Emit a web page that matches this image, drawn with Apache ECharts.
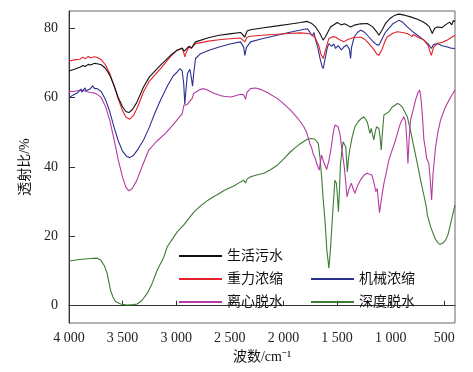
<!DOCTYPE html>
<html><head><meta charset="utf-8">
<script src="https://cdn.jsdelivr.net/npm/echarts@6/dist/echarts.min.js"></script>
<style>html,body{margin:0;padding:0;background:#fff}#c{width:473px;height:372px}</style>
</head><body><div id="c"></div>
<script>
const seriesNames = ['生活污水','重力浓缩','机械浓缩','离心脱水','深度脱水'];
const xTicks = [500,1000,1500,2000,2500,3000,3500,4000];
const yTicks = [0,20,40,60,80];

const domestic = [[4000,67.7],[3950,68.2],[3900,68.8],[3870,69.3],[3850,69.0],[3820,69.6],[3800,69.4],[3760,69.9],[3737,69.8],[3700,69.5],[3660,68.5],[3620,66.5],[3580,63.5],[3540,60.0],[3500,57.3],[3470,56.0],[3442,55.7],[3410,56.5],[3370,58.5],[3305,63.1],[3250,66.0],[3146,69.4],[3050,72.3],[2991,73.7],[2944,74.3],[2925,73.4],[2915,73.6],[2882,74.8],[2855,74.4],[2840,75.2],[2820,76.1],[2700,77.3],[2600,78.0],[2500,78.4],[2400,78.8],[2384,79.0],[2360,77.5],[2340,79.2],[2307,79.6],[2200,80.1],[2058,80.7],[1950,81.2],[1840,81.7],[1778,82.0],[1740,81.5],[1700,80.4],[1660,78.5],[1630,76.6],[1610,77.5],[1561,80.4],[1498,81.7],[1460,81.0],[1430,81.3],[1400,80.8],[1374,80.4],[1330,81.0],[1280,81.3],[1218,81.4],[1170,80.5],[1130,79.0],[1110,78.0],[1080,79.5],[1048,81.4],[1000,83.0],[960,83.8],[924,84.1],[870,83.8],[814,83.3],[750,82.6],[700,81.9],[674,81.4],[640,80.5],[612,78.5],[590,80.0],[565,80.4],[520,80.2],[490,81.0],[472,80.6],[450,81.8],[430,81.0],[415,82.3],[400,81.9]];

const gravity = [[4000,70.6],[3950,70.9],[3900,71.1],[3870,71.7],[3850,71.2],[3820,71.9],[3800,71.5],[3760,71.8],[3737,71.6],[3700,71.0],[3660,69.5],[3620,67.0],[3580,63.5],[3540,59.5],[3500,56.2],[3470,54.4],[3433,53.8],[3400,54.8],[3360,57.3],[3305,61.7],[3250,64.8],[3146,68.4],[3050,72.0],[2991,73.7],[2944,74.2],[2930,73.0],[2920,71.8],[2905,73.2],[2882,74.6],[2860,74.2],[2851,73.9],[2838,75.0],[2820,75.6],[2700,76.3],[2600,76.7],[2500,77.0],[2400,77.2],[2384,77.1],[2360,76.1],[2340,77.4],[2307,77.7],[2200,78.0],[2058,78.3],[1950,78.5],[1840,78.7],[1778,78.5],[1740,78.3],[1700,77.1],[1670,75.0],[1650,72.5],[1629,71.3],[1610,73.5],[1576,77.1],[1540,77.6],[1514,77.5],[1480,76.8],[1437,76.1],[1400,76.8],[1350,77.3],[1281,77.5],[1240,76.8],[1203,75.6],[1160,74.0],[1130,72.6],[1110,72.2],[1080,74.0],[1050,76.5],[1032,77.5],[980,78.6],[938,79.0],[890,78.8],[845,78.5],[800,77.6],[790,78.2],[750,77.5],[690,76.6],[650,75.0],[630,73.0],[621,72.2],[600,74.5],[565,75.6],[520,76.0],[472,76.6],[440,77.3],[400,78.0]];

const mechanical = [[4000,60.0],[3960,60.8],[3920,61.4],[3890,62.5],[3880,61.6],[3850,62.8],[3840,62.0],[3800,62.6],[3780,63.4],[3760,62.6],[3737,62.6],[3700,61.8],[3660,59.5],[3620,56.0],[3580,51.5],[3540,47.5],[3500,44.5],[3460,43.0],[3433,42.7],[3400,43.3],[3360,45.0],[3305,47.8],[3250,51.5],[3200,55.5],[3146,59.3],[3080,63.5],[3030,66.2],[2991,67.4],[2965,68.4],[2945,67.8],[2930,64.0],[2920,58.1],[2910,62.0],[2895,67.0],[2873,68.2],[2860,66.0],[2848,63.3],[2835,67.5],[2820,71.3],[2773,72.7],[2700,73.6],[2600,74.6],[2500,75.5],[2400,76.1],[2384,76.1],[2370,74.5],[2360,72.2],[2345,74.5],[2307,76.1],[2200,77.0],[2058,78.0],[1950,78.8],[1840,79.5],[1778,79.9],[1760,79.2],[1747,78.5],[1730,77.8],[1715,78.8],[1700,76.6],[1680,74.5],[1660,71.5],[1640,69.0],[1629,68.4],[1610,71.5],[1590,74.5],[1576,75.6],[1550,74.8],[1530,75.5],[1514,74.2],[1490,75.0],[1460,73.8],[1437,74.6],[1410,75.2],[1385,74.0],[1374,71.3],[1365,74.5],[1340,77.5],[1310,78.8],[1281,79.5],[1240,78.8],[1203,77.5],[1160,76.0],[1130,75.3],[1110,75.1],[1080,77.0],[1050,78.8],[1032,79.5],[980,81.3],[924,82.3],[890,81.8],[845,80.4],[800,79.2],[750,78.0],[690,76.6],[650,75.5],[621,74.2],[600,75.3],[565,75.6],[520,75.0],[472,74.6],[440,74.3],[400,74.2]];

const centrifugal = [[4000,61.9],[3960,61.8],[3920,62.0],[3880,62.2],[3840,61.8],[3800,61.5],[3760,61.3],[3737,61.0],[3700,60.0],[3660,57.5],[3620,53.5],[3580,48.0],[3540,42.0],[3500,37.0],[3470,34.2],[3442,33.1],[3410,33.8],[3370,36.0],[3320,40.0],[3256,44.9],[3180,47.5],[3100,49.7],[3020,52.5],[2944,55.4],[2929,57.8],[2920,57.3],[2900,58.0],[2851,59.8],[2836,61.3],[2773,62.4],[2743,62.6],[2711,62.2],[2650,61.3],[2587,60.6],[2556,60.4],[2494,60.2],[2463,60.4],[2400,61.0],[2370,60.8],[2354,59.5],[2340,61.5],[2307,62.6],[2260,62.8],[2214,62.4],[2150,61.5],[2058,59.8],[2000,58.3],[1934,56.4],[1870,54.2],[1810,51.6],[1784,50.0],[1754,46.8],[1737,45.5],[1720,43.5],[1707,42.9],[1690,41.0],[1666,39.1],[1655,41.5],[1644,43.4],[1625,41.5],[1597,39.3],[1575,42.0],[1551,46.3],[1535,50.0],[1520,52.1],[1505,52.3],[1489,51.6],[1470,49.0],[1458,45.8],[1433,40.1],[1420,36.0],[1407,31.4],[1390,33.5],[1367,35.3],[1350,33.8],[1334,32.4],[1310,34.5],[1282,36.2],[1250,37.6],[1222,38.2],[1200,38.0],[1176,37.7],[1160,36.0],[1138,32.9],[1125,33.8],[1114,33.4],[1104,26.8],[1085,31.0],[1063,35.3],[1040,38.5],[1017,42.0],[985,45.0],[954,47.8],[930,50.5],[909,52.6],[877,54.5],[860,53.0],[850,48.0],[839,41.0],[828,48.0],[815,53.5],[790,56.5],[768,59.3],[745,61.5],[730,62.2],[718,60.0],[705,55.4],[690,47.8],[675,45.0],[665,42.5],[655,43.0],[644,41.0],[630,36.0],[618,30.5],[605,38.0],[581,45.8],[560,50.0],[535,53.5],[500,56.5],[472,58.3],[440,60.2],[410,61.7],[400,62.2]];

const advanced = [[4000,12.9],[3900,13.3],[3800,13.6],[3737,13.7],[3706,13.2],[3670,11.5],[3644,9.3],[3613,4.5],[3590,2.5],[3566,1.2],[3520,0.5],[3457,0.2],[3400,0.3],[3364,0.5],[3320,1.5],[3270,3.6],[3230,6.0],[3177,10.3],[3116,14.0],[3084,17.0],[2991,21.3],[2929,23.3],[2836,27.0],[2773,28.8],[2700,30.5],[2649,31.5],[2618,32.0],[2550,33.3],[2463,34.5],[2400,35.7],[2370,36.2],[2354,35.4],[2340,36.5],[2307,37.2],[2250,37.7],[2183,38.2],[2120,39.2],[2058,40.5],[2000,42.3],[1934,44.4],[1880,45.8],[1840,46.8],[1778,48.0],[1740,48.2],[1707,48.0],[1675,46.8],[1660,43.0],[1644,37.2],[1630,31.0],[1613,24.7],[1595,16.0],[1576,10.8],[1560,17.0],[1541,26.6],[1520,36.2],[1506,35.3],[1495,31.0],[1487,27.1],[1478,33.0],[1468,41.0],[1444,47.3],[1419,45.8],[1404,38.6],[1395,42.0],[1382,44.9],[1360,48.5],[1334,51.6],[1300,53.2],[1273,54.0],[1250,54.5],[1218,53.0],[1194,49.7],[1181,51.1],[1170,49.5],[1157,47.8],[1145,50.0],[1132,51.6],[1110,51.1],[1100,49.0],[1088,44.9],[1078,49.5],[1063,55.0],[1017,55.9],[985,57.3],[960,57.8],[938,58.3],[915,58.0],[892,57.3],[870,56.0],[845,54.5],[815,50.5],[784,45.8],[750,40.8],[721,36.2],[695,32.5],[674,29.5],[665,28.0],[658,26.1],[628,22.8],[600,20.5],[581,19.1],[560,18.2],[541,17.7],[515,18.0],[488,18.9],[465,20.5],[441,23.7],[420,26.5],[400,29.0]];

const colors = ['#111111','#e3222b','#2c3190','#b53aa3','#3e7b34'];
const dataSets = [domestic, gravity, mechanical, centrifugal, advanced];

const serif = '"Liberation Serif","DejaVu Serif",serif';
const cjk = '"Liberation Serif","Noto Sans CJK SC",serif';

function fmtX(v){ return v >= 1000 ? Math.floor(v/1000) + ' ' + String(v % 1000).padStart(3,'0') : String(v); }

const legendBase = {orient: 'vertical', padding: 0, itemWidth: 43, itemHeight: 14, itemGap: 9,
  itemStyle: {opacity: 0}, textStyle: {fontFamily: cjk, fontSize: 14, color: '#111'}};

const chart = echarts.init(document.getElementById('c'), null, {renderer:'canvas'});
chart.setOption({
  animation: false,
  backgroundColor: '#fff',
  grid: {left: 69, right: 18, top: 11, bottom: 49, show: true, borderColor: '#666', borderWidth: 1, containLabel: false},
  legend: [
    Object.assign({}, legendBase, {data: [seriesNames[0], seriesNames[1], seriesNames[3]], left: 178, top: 249}),
    Object.assign({}, legendBase, {data: [seriesNames[2], seriesNames[4]], left: 310, top: 272})
  ],
  xAxis: {
    type: 'value', min: 400, max: 4000, inverse: true,
    name: '波数/cm⁻¹', nameLocation: 'middle', nameGap: 26,
    nameTextStyle: {fontFamily: cjk, fontSize: 14, color: '#111'},
    axisLine: {show: true, lineStyle: {color: '#333', width: 1}},
    axisTick: {show: true, inside: true, length: 5, customValues: xTicks, lineStyle: {color: '#333'}},
    axisLabel: {customValues: xTicks, formatter: fmtX, fontFamily: serif, fontSize: 14, color: '#222', margin: 8},
    splitLine: {show: false}
  },
  yAxis: {
    type: 'value', min: -5, max: 85,
    name: '透射比/%', nameLocation: 'middle', nameGap: 37, nameRotate: 90,
    nameTextStyle: {fontFamily: cjk, fontSize: 14, color: '#111'},
    axisLine: {show: true, lineStyle: {color: '#333', width: 1}},
    axisTick: {show: true, inside: true, length: 6, customValues: yTicks, lineStyle: {color: '#333'}},
    axisLabel: {customValues: yTicks, fontFamily: serif, fontSize: 14, color: '#222', margin: 11},
    splitLine: {show: false}
  },
  series: seriesNames.map((n,i)=>({
    name: n, type: 'line', data: dataSets[i], symbol: 'none', showSymbol: false,
    color: colors[i], lineStyle: {width: 1.1, color: colors[i]}, z: 10 - i
  }))
});
</script>
</body></html>
